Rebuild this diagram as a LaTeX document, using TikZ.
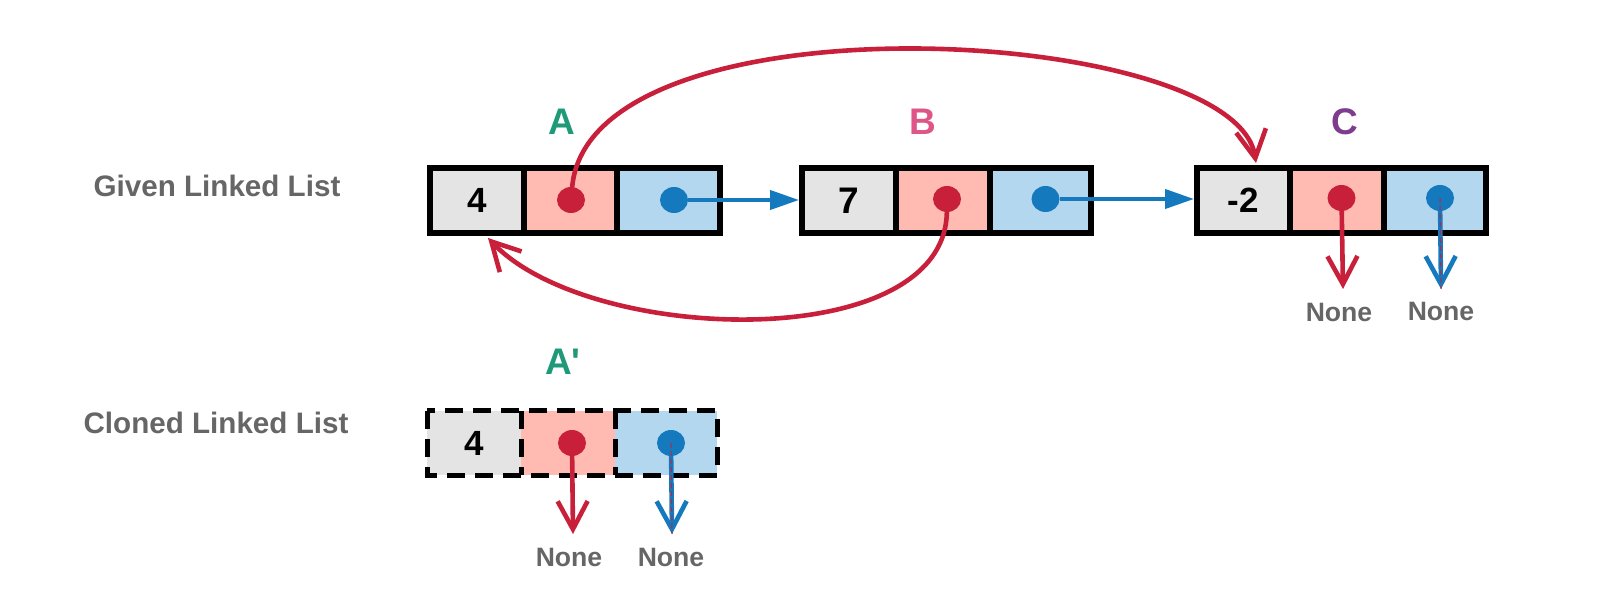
\documentclass[tikz,border=0pt]{standalone}
\usepackage{fontspec}
\setmainfont{Liberation Sans}
\usetikzlibrary{arrows.meta,shapes.geometric}
\definecolor{cellgray}{HTML}{E4E4E4}
\definecolor{cellred}{HTML}{FFBBB2}
\definecolor{cellblue}{HTML}{B3D7EE}
\definecolor{redline}{HTML}{C8203A}
\definecolor{blueline}{HTML}{1479BD}
\definecolor{txtgray}{HTML}{666666}
\definecolor{lblA}{HTML}{1E9A78}
\definecolor{lblB}{HTML}{DD5687}
\definecolor{lblC}{HTML}{7D3C8D}
\begin{document}
\begin{tikzpicture}[x=0.5pt,y=-0.5pt,
  cell/.style={draw=black, line width=3pt, minimum height=32.5pt, inner sep=0pt,
    font=\bfseries\fontsize{17.5}{17.5}\selectfont},
  ccell/.style={draw=none, minimum height=32pt, inner sep=0pt, outer sep=0pt,
    font=\bfseries\fontsize{17.5}{17.5}\selectfont},
  dashline/.style={draw=black, line width=2.5pt, dash pattern=on 9pt off 5pt},
  rdot/.style={ellipse, fill=redline, draw=none, minimum width=14pt, minimum height=13pt, inner sep=0pt, outer sep=0pt},
  bdot/.style={ellipse, fill=blueline, draw=none, minimum width=14pt, minimum height=13pt, inner sep=0pt, outer sep=0pt},
  rarrow/.style={draw=redline, line width=2.3pt, -{Straight Barb[length=14pt,width=15pt]}},
  barrow/.style={draw=blueline, line width=2.3pt, -{Straight Barb[length=14pt,width=15pt]}},
  bline/.style={draw=blueline, line width=2pt, -{Triangle[length=14.5pt,width=9.5pt]}},
  ghost/.style={draw=redline, line width=0.5pt, dash pattern=on 2.5pt off 1.5pt},
  side/.style={text=txtgray, font=\bfseries\fontsize{14.8}{14.8}\selectfont},
  none/.style={text=txtgray, font=\bfseries\fontsize{13.3}{13.3}\selectfont},
  lbl/.style={font=\bfseries\fontsize{18.5}{18.5}\selectfont}
]
\fill[white] (0,0) rectangle (1600,598);
\useasboundingbox (0,0) rectangle (1600,598);

% side labels
\node[side] (given) at (217,186) {Given Linked List};
\node[side] (cloned) at (216,423) {Cloned Linked List};

% node labels
\node[lbl, text=lblA] (la) at (562,122) {A};
\node[lbl, text=lblB] (lb) at (923,122) {B};
\node[lbl, text=lblC] (lc) at (1345,122) {C};
\node[lbl, text=lblA] (lad) at (563,362) {A\textquotesingle};

% node A
\node[cell, fill=cellgray, minimum width=47pt] (a1) at (477,200.5) {4};
\node[cell, fill=cellred, minimum width=46.5pt] (a2) at (570.5,200.5) {};
\node[cell, fill=cellblue, minimum width=51.5pt] (a3) at (668.5,200.5) {};
% node B
\node[cell, fill=cellgray, minimum width=47pt] (b1) at (849,200.5) {\fontsize{18.5}{18.5}\selectfont 7};
\node[cell, fill=cellred, minimum width=47pt] (b2) at (943,200.5) {};
\node[cell, fill=cellblue, minimum width=50.5pt] (b3) at (1040.5,200.5) {};
% node C
\node[cell, fill=cellgray, minimum width=46.5pt] (c1) at (1243.5,200.5) {-2};
\node[cell, fill=cellred, minimum width=47pt] (c2) at (1337,200.5) {};
\node[cell, fill=cellblue, minimum width=51pt] (c3) at (1435,200.5) {};

% cloned node
\node[ccell, fill=cellgray, minimum width=47pt] (d1) at (474,443) {4};
\node[ccell, fill=cellred, minimum width=47pt] (d2) at (568,443) {};
\node[ccell, fill=cellblue, minimum width=51pt] (d3) at (666,443) {};
\draw[dashline] (d1.north west) rectangle (d3.south east);
\draw[dashline] (d1.north east) -- (d1.south east);
\draw[dashline] (d2.north east) -- (d2.south east);

% dots
\node[rdot] (ar) at (571,200) {};
\node[bdot] (ab) at (674,200) {};
\node[rdot] (br) at (947,199) {};
\node[bdot] (bb) at (1045.5,199) {};
\node[rdot] (cr) at (1341.5,198) {};
\node[bdot] (cb) at (1440,198) {};
\node[rdot] (dr) at (572,443) {};
\node[bdot] (db) at (671,443) {};

% None labels
\node[none] (n1) at (1339,312) {None};
\node[none] (n2) at (1441,311) {None};
\node[none] (n3) at (569,557) {None};
\node[none] (n4) at (671,557) {None};

% arrow end points
\coordinate (ctop) at (1256,163);
\coordinate (abot) at (488,238);
\coordinate (crend) at (1343,289);
\coordinate (cbend) at (1441,289);
\coordinate (drend) at (573,534);
\coordinate (dbend) at (672,534);

% next pointers
\draw[bline] (ab) -- (ab -| b1.west);
\draw[bline] (bb) -- (bb -| c1.west);

% random pointers
\draw[rarrow] (ar) .. controls (590,-10) and (1235,25) .. (ctop);
\draw[rarrow] (br) .. controls (945,355) and (590,345) .. (abot);

% None pointers
\draw[rarrow] (cr) -- (crend);
\draw[barrow] (cb) -- (cbend);
\draw[ghost] (cb.center) -- (cbend);
\draw[rarrow] (dr) -- (drend);
\draw[barrow] (db) -- (dbend);
\draw[ghost] (db.center) -- (dbend);
\end{tikzpicture}
\end{document}
